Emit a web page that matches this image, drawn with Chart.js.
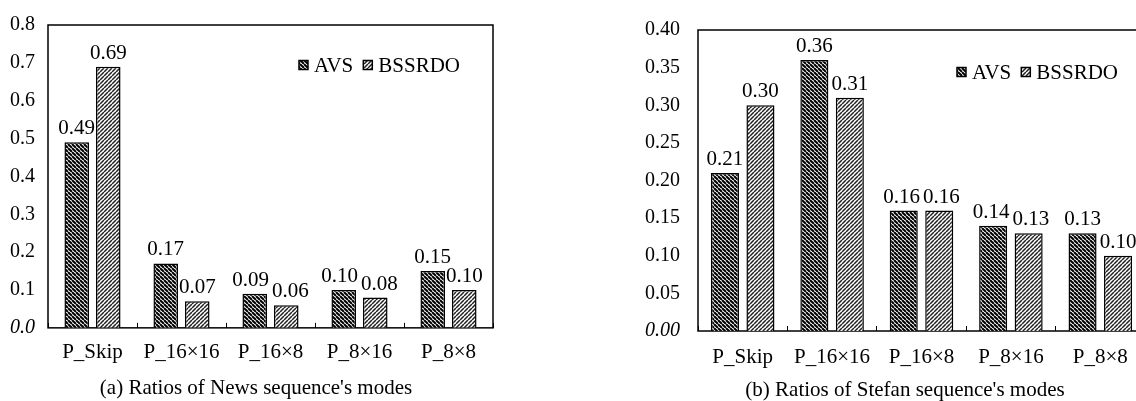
<!DOCTYPE html>
<html>
<head>
<meta charset="utf-8">
<script src="https://cdn.jsdelivr.net/npm/chart.js@4/dist/chart.umd.min.js"></script>
<style>
  html, body { margin: 0; padding: 0; background: #fff; overflow: hidden; width: 1136px; height: 401px; }
  .box { position: absolute; top: 0; height: 401px; }
  #wrapA { left: 0; width: 512px; }
  #wrapB { left: 630px; width: 550px; }
</style>
</head>
<body>
<div id="wrapA" class="box"><canvas id="chartA" width="512" height="401"></canvas></div>
<div id="wrapB" class="box"><canvas id="chartB" width="550" height="401"></canvas></div>
<script>
// ---- data ----
const categories = ['P_Skip', 'P_16×16', 'P_16×8', 'P_8×16', 'P_8×8'];
const seriesNames = ['AVS', 'BSSRDO'];
const newsAVS = [0.49, 0.17, 0.09, 0.10, 0.15];
const newsBSSRDO = [0.69, 0.07, 0.06, 0.08, 0.10];
const stefanAVS = [0.21, 0.36, 0.16, 0.14, 0.13];
const stefanBSSRDO = [0.30, 0.31, 0.16, 0.13, 0.10];
const newsTicks = [0, 0.1, 0.2, 0.3, 0.4, 0.5, 0.6, 0.7, 0.8];
const stefanTicks = [0, 0.05, 0.10, 0.15, 0.20, 0.25, 0.30, 0.35, 0.40];
const titleA = "(a) Ratios of News sequence's modes";
const titleB = "(b) Ratios of Stefan sequence's modes";

const FONT = "'Liberation Serif', 'Times New Roman', serif";

function hatch(dir, lineW, color) {
  const s = 4;
  const c = document.createElement('canvas');
  c.width = s; c.height = s;
  const g = c.getContext('2d');
  g.fillStyle = '#fff';
  g.fillRect(0, 0, s, s);
  g.strokeStyle = color;
  g.lineWidth = lineW;
  g.beginPath();
  for (const k of [-s, 0, s]) {
    if (dir === 'back') { g.moveTo(k, 0); g.lineTo(k + s, s); }
    else { g.moveTo(k + s, 0); g.lineTo(k, s); }
  }
  g.stroke();
  return g.createPattern(c, 'repeat');
}

const frameAndLabels = {
  id: 'frameAndLabels',
  beforeDatasetsDraw(chart) {
    const { ctx, chartArea: a } = chart;
    ctx.save();
    ctx.strokeStyle = '#000';
    ctx.lineWidth = 1.5;
    ctx.strokeRect(a.left, a.top, a.right - a.left, a.bottom - a.top);
    ctx.restore();
  },
  afterDatasetsDraw(chart) {
    const { ctx } = chart;
    ctx.save();
    ctx.fillStyle = '#000';
    ctx.font = '21px ' + FONT;
    ctx.textAlign = 'center';
    ctx.textBaseline = 'alphabetic';
    const m0 = chart.getDatasetMeta(0).data, m1 = chart.getDatasetMeta(1).data;
    const d0 = chart.data.datasets[0].data, d1 = chart.data.datasets[1].data;
    const minGap = 3;
    m0.forEach((b0, j) => {
      const b1 = m1[j];
      const t0 = d0[j].toFixed(2), t1 = d1[j].toFixed(2);
      const w0 = ctx.measureText(t0).width, w1 = ctx.measureText(t1).width;
      let x0 = b0.x, x1 = b1.x;
      const y0 = b0.y - 8, y1 = b1.y - 8;
      const overlapV = Math.abs(y0 - y1) < 16;
      const need = (w0 + w1) / 2 + minGap - (x1 - x0);
      if (overlapV && need > 0) { x0 -= need / 2; x1 += need / 2; }
      ctx.fillText(t0, x0, y0);
      ctx.fillText(t1, x1, y1);
    });
    // legend
    const o = chart.options.plugins.frameAndLabels;
    const a = chart.chartArea;
    const box = 9, gapBoxText = 6, gapItems = 10;
    ctx.textAlign = 'left';
    ctx.textBaseline = 'middle';
    const widths = chart.data.datasets.map(ds => box + gapBoxText + ctx.measureText(ds.label).width);
    const total = widths.reduce((p, q) => p + q, 0) + gapItems * (widths.length - 1);
    let x = a.right - o.legendRight - total;
    const cy = a.top + o.legendTop;
    chart.data.datasets.forEach((ds, i) => {
      ctx.fillStyle = ds.backgroundColor;
      ctx.fillRect(x, cy - box / 2, box, box);
      ctx.strokeStyle = '#000';
      ctx.lineWidth = 1.5;
      ctx.strokeRect(x, cy - box / 2, box, box);
      ctx.fillStyle = '#000';
      ctx.fillText(ds.label, x + box + gapBoxText, cy + 1);
      x += widths[i] + gapItems;
    });
    ctx.restore();
  }
};

function makeChart(id, d1, d2, ticks, decimals, title, geom) {
  const avsFill = hatch('back', 2.0, '#000');
  const bssFill = hatch('fwd', 1.5, '#222');
  return new Chart(document.getElementById(id), {
    type: 'bar',
    data: {
      labels: categories,
      datasets: [
        { label: seriesNames[0], data: d1, backgroundColor: avsFill, borderColor: '#000', borderWidth: 1.5 },
        { label: seriesNames[1], data: d2, backgroundColor: bssFill, borderColor: '#000', borderWidth: 1.5 }
      ]
    },
    plugins: [frameAndLabels],
    options: {
      responsive: false,
      animation: false,
      devicePixelRatio: 1,
      categoryPercentage: geom.cp,
      barPercentage: geom.bp,
      layout: { padding: { top: geom.top, right: 0, left: 0, bottom: 0 } },
      plugins: {
        legend: { display: false },
        tooltip: { enabled: false },
        title: {
          display: true, text: title, position: 'bottom', color: '#000',
          font: { family: FONT, size: 21, weight: 'normal', lineHeight: geom.titleLH }, padding: { top: 0, bottom: 0 }
        },
        frameAndLabels: { legendRight: geom.legendRight, legendTop: geom.legendTop }
      },
      scales: {
        x: {
          offset: true,
          grid: { display: true, drawOnChartArea: false, drawTicks: true, tickLength: -5, color: '#000', lineWidth: 1, offset: true },
          border: { display: false },
          ticks: { color: '#000', font: { family: FONT, size: 21 }, padding: geom.xPad, maxRotation: 0, autoSkip: false },
          afterFit(s) { s.height = geom.xHeight; }
        },
        y: {
          min: 0, max: ticks[ticks.length - 1],
          grid: { display: false, drawTicks: false },
          border: { display: false },
          afterBuildTicks(s) { s.ticks = ticks.map(v => ({ value: v })); },
          ticks: {
            color: '#000', padding: geom.yPad,
            font: (c) => ({ family: FONT, size: 20, style: (c.tick && c.tick.value === 0) ? 'italic' : 'normal' }),
            callback: (v) => Number(v).toFixed(decimals)
          },
          afterFit(s) { s.width = geom.yWidth; }
        },
        spacer: {
          type: 'linear', position: 'right', display: true,
          grid: { display: false, drawTicks: false },
          border: { display: false },
          ticks: { display: false },
          afterFit(s) { s.width = geom.right; }
        }
      }
    }
  });
}

makeChart('chartA', newsAVS, newsBSSRDO, newsTicks, 1, titleA,
  { cp: 0.708, bp: 0.78, top: 20, right: 19, xHeight: 49, xPad: 17, yPad: 13, yWidth: 48, legendRight: 33, legendTop: 40, titleLH: 1.15 });
makeChart('chartB', stefanAVS, stefanBSSRDO, stefanTicks, 2, titleB,
  { cp: 0.794, bp: 0.79, top: 19, right: 35, xHeight: 49, xPad: 19, yPad: 18, yWidth: 68, legendRight: 27, legendTop: 42, titleLH: 1.0 });
</script>
</body>
</html>
